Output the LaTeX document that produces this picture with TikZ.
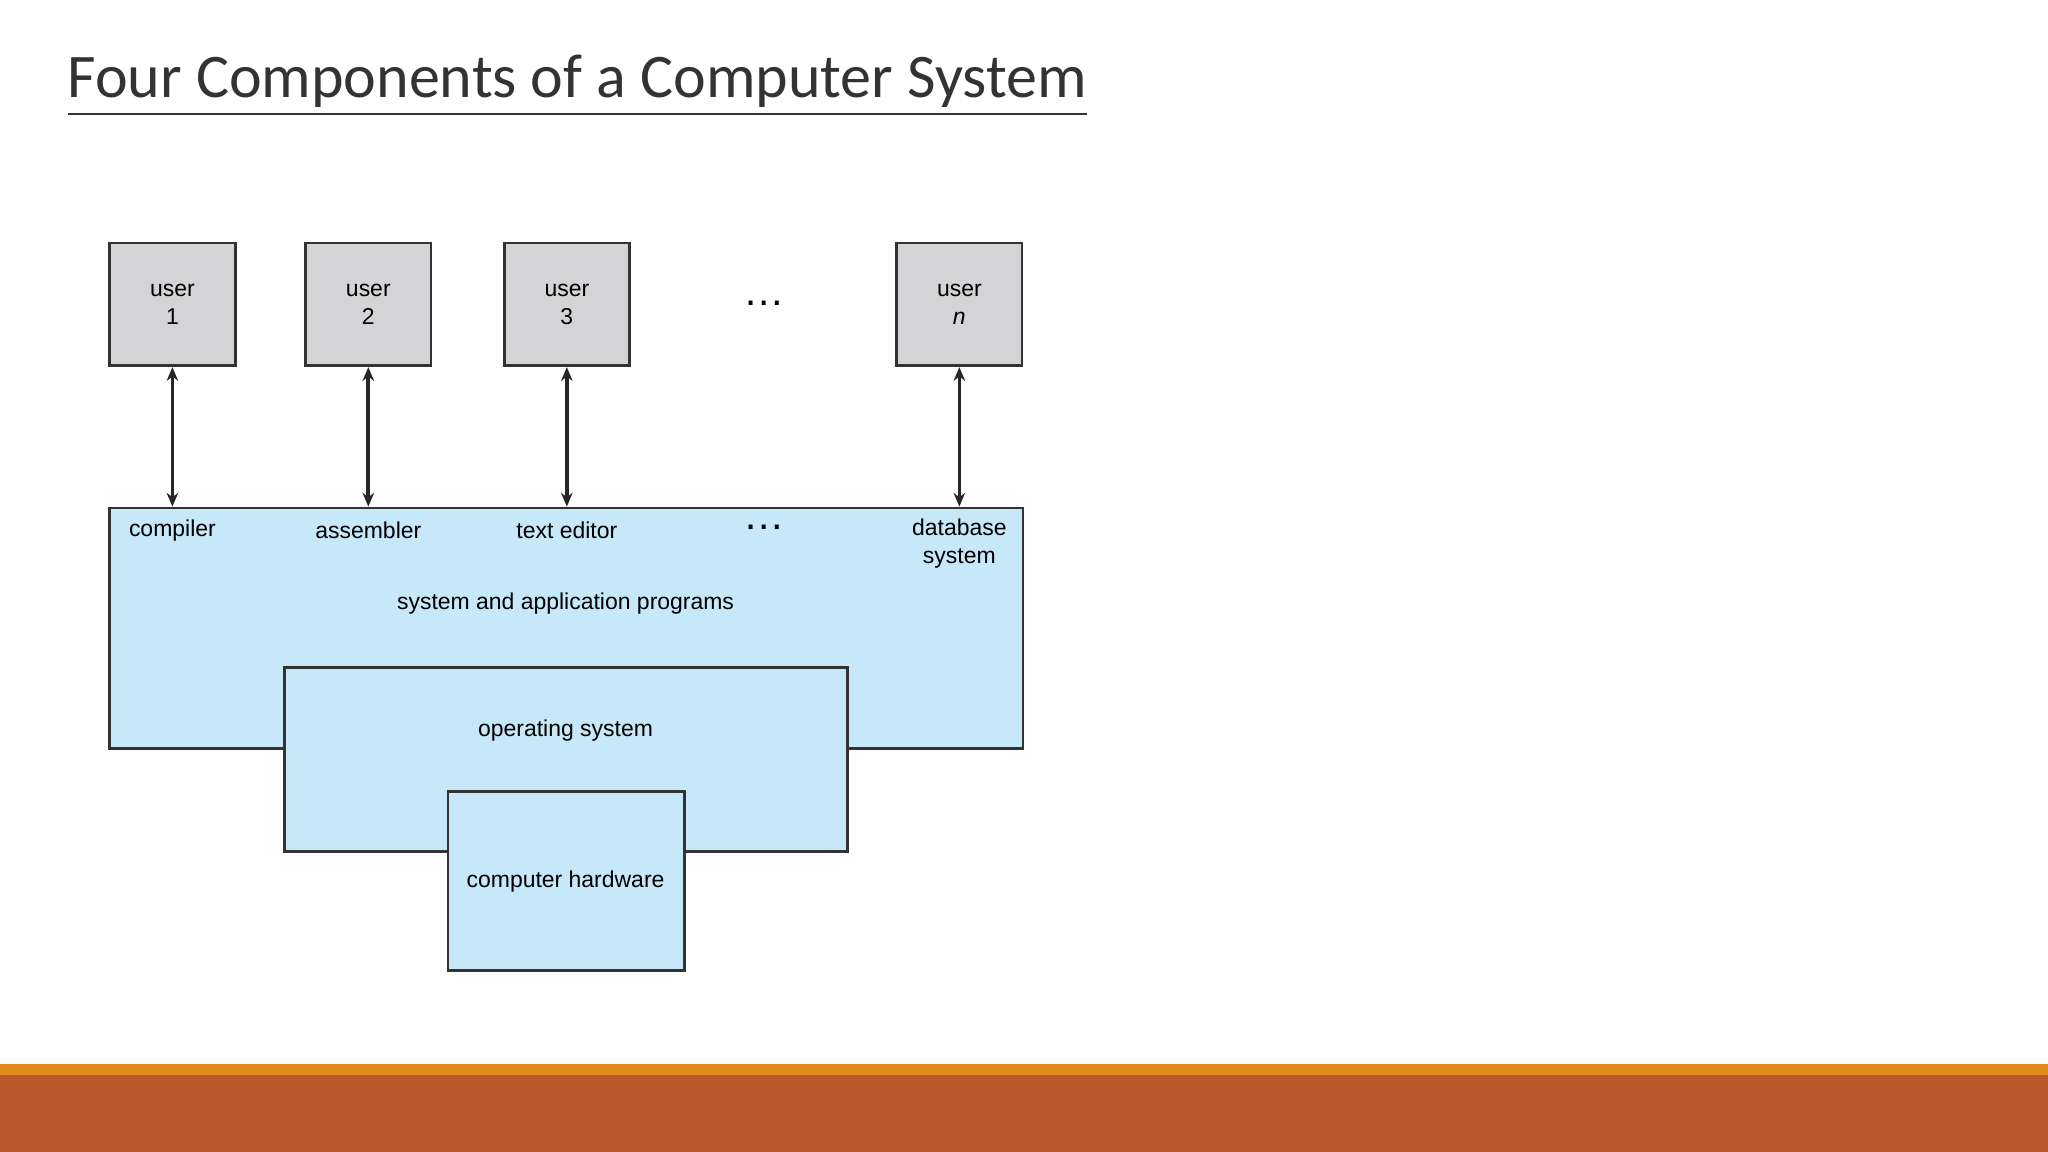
\documentclass[tikz,border=0pt]{standalone}
\usepackage{fontspec}
\setmainfont{Liberation Sans}
\newfontfamily\titlefont{Carlito}
\usetikzlibrary{arrows.meta}
\definecolor{usergray}{HTML}{D4D4D6}
\definecolor{progblue}{HTML}{C6E8F8}
\definecolor{barorange}{HTML}{E08A1E}
\definecolor{barrust}{HTML}{BC582C}
\begin{document}
\begin{tikzpicture}[x=0.01cm,y=-0.01cm]
	\tikzstyle{user_box} = [draw=black!80, fill=usergray, line width=0.6pt, minimum width=0.96cm, minimum height=0.94cm, inner sep=0pt, align=center, font=\fontsize{5}{6}\selectfont]
	\tikzstyle{layer_box} = [draw=black!80, fill=progblue, line width=0.6pt, inner sep=0pt]
	\tikzstyle{small_text} = [font=\fontsize{5}{6}\selectfont, align=center, inner sep=0pt]
	\tikzstyle{link} = [{Stealth[length=3pt,width=2.5pt]}-{Stealth[length=3pt,width=2.5pt]}, line width=0.8pt, black!85]

	\useasboundingbox[fill=white] (0,0) rectangle (1568,882);

%------------------------------------------------------------
	\node[anchor=base west, inner sep=0pt, font=\titlefont\fontsize{13.5}{16}\selectfont, text=black!80] (title) at (51,75) {\underline{Four Components of a Computer System}};

%------------------------------------------------------------
	\node[user_box] (u1) at (132,233) {user\\1};
	\node[user_box] (u2) at (282,233) {user\\2};
	\node[user_box] (u3) at (434,233) {user\\3};
	\node[user_box] (un) at (734.5,233) {user\\\textit{n}};
	\node[small_text, font=\fontsize{9}{9}\selectfont] (udots) at (585,232) {\dots};

%------------------------------------------------------------
	\node[layer_box, minimum width=6.99cm, minimum height=1.84cm] (prog) at (433.5,481) {};
	\node[layer_box, minimum width=4.31cm, minimum height=1.41cm] (os) at (433.5,581.5) {};
	\node[layer_box, minimum width=1.81cm, minimum height=1.37cm] (hw) at (433.5,674.5) {};

	\node[small_text] (compiler) at (132,406) {compiler};
	\node[small_text] (assembler) at (282,406) {assembler};
	\node[small_text] (editor) at (434,406) {text editor};
	\node[small_text, font=\fontsize{9}{9}\selectfont] (pdots) at (585,404) {\dots};
	\node[small_text] (database) at (734.5,416) {database\\system};
	\node[small_text] (progtext) at (433,462) {system and application programs};
	\node[small_text] (ostext) at (433,559) {operating system};
	\node[small_text] (hwtext) at (433,675) {computer hardware};

%------------------------------------------------------------
	\draw[link] (u1.south) -- (u1 |- prog.north);
	\draw[link] (u2.south) -- (u2 |- prog.north);
	\draw[link] (u3.south) -- (u3 |- prog.north);
	\draw[link] (un.south) -- (un |- prog.north);

%------------------------------------------------------------
	\fill[barorange] (0,815) rectangle (1568,823);
	\fill[barrust] (0,823) rectangle (1568,882);
\end{tikzpicture}
\end{document}
